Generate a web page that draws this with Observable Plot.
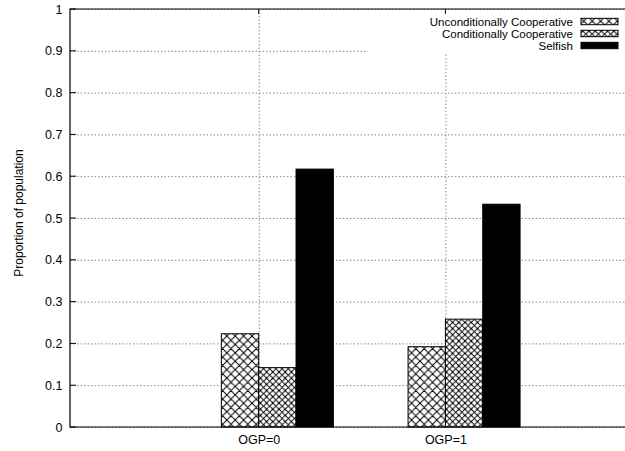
<!DOCTYPE html>
<html>
<head>
<meta charset="utf-8">
<script src="https://cdn.jsdelivr.net/npm/d3@7"></script>
<script src="https://cdn.jsdelivr.net/npm/@observablehq/plot@0.6"></script>
<style>
  html, body { margin: 0; padding: 0; background: #fff; }
  #chart { width: 625px; height: 451px; }
</style>
</head>
<body>
<div id="chart"></div>
<script>
const categories = ["OGP=0", "OGP=1"];
const series = ["Unconditionally Cooperative", "Conditionally Cooperative", "Selfish"];
const unconditional = [0.223, 0.192];
const conditional = [0.142, 0.258];
const selfish = [0.617, 0.533];
const yTicks = [0, 0.1, 0.2, 0.3, 0.4, 0.5, 0.6, 0.7, 0.8, 0.9, 1];
const yLabel = "Proportion of population";

const values = [unconditional, conditional, selfish];
const barW = 0.2;
const rows = [];
categories.forEach((c, i) => {
  series.forEach((s, j) => {
    const x1 = i + (j - 1) * barW;
    rows.push({ x1, x2: x1 + barW, value: values[j][i], series: s });
  });
});

const W = 625, H = 451, mL = 70, mT = 9, mB = 24;
const pxPerUnit = 186.7;
const xMin = -(258.7 - mL) / pxPerUnit;
const xMax = xMin + (W - mL) / pxPerUnit;
const font = "'Liberation Sans', Arial, Helvetica, sans-serif";
const fs = 12.5;
const legFs = 11.5;
const fills = ["url(#pUC)", "url(#pCC)", "black"];

const plot = Plot.plot({
  width: W, height: H,
  marginLeft: mL, marginTop: mT, marginBottom: mB, marginRight: 0,
  style: { fontFamily: font, fontSize: fs + "px", color: "black", background: "white" },
  x: { domain: [xMin, xMax], type: "linear" },
  y: { domain: [0, 1] },
  color: { type: "ordinal", domain: series, range: fills },
  marks: [
    Plot.gridY(yTicks, { stroke: "#888", strokeOpacity: 1, strokeDasharray: "1.5,2" }),
    Plot.gridX([0, 1], { stroke: "#888", strokeOpacity: 1, strokeDasharray: "1.5,2" }),
    Plot.rectY(rows, { x1: "x1", x2: "x2", y: "value", fill: "series", stroke: "black", strokeWidth: 1 }),
    Plot.axisY(yTicks, { tickSize: 0, tickPadding: 8, tickFormat: d => String(+d.toFixed(1)), label: null, fontSize: fs }),
    Plot.axisX([0, 1], { tickSize: 0, tickPadding: 8, tickFormat: i => categories[i], label: null, fontSize: fs })
  ]
});

document.getElementById("chart").appendChild(plot);

const svg = d3.select(plot);
const defs = svg.insert("defs", ":first-child");
const p1 = defs.append("pattern").attr("id", "pUC").attr("patternUnits", "userSpaceOnUse")
  .attr("width", 8.4).attr("height", 8.4);
p1.append("rect").attr("width", 8.4).attr("height", 8.4).attr("fill", "white");
p1.append("path").attr("d", "M0,0L8.4,8.4M8.4,0L0,8.4M-1,1L1,-1M7.4,9.4L9.4,7.4").attr("stroke", "black").attr("stroke-width", 1);
const p2 = defs.append("pattern").attr("id", "pCC").attr("patternUnits", "userSpaceOnUse")
  .attr("width", 6.2).attr("height", 6.2);
p2.append("rect").attr("width", 6.2).attr("height", 6.2).attr("fill", "white");
p2.append("path").attr("d", "M0,0L6.2,6.2M6.2,0L0,6.2").attr("stroke", "black").attr("stroke-width", 0.9);
[[0, 0], [6.2, 0], [0, 6.2], [6.2, 6.2]].forEach(([cx, cy]) =>
  p2.append("circle").attr("cx", cx).attr("cy", cy).attr("r", 1.1).attr("fill", "black"));

const fb = H - mB; // frame bottom
const g = svg.append("g");
const yScale = plot.scale("y"), xScale = plot.scale("x");
yTicks.forEach(t => {
  const y = yScale.apply(t);
  g.append("line").attr("x1", mL).attr("x2", mL + 6).attr("y1", y).attr("y2", y).attr("stroke", "black");
});
// legend background
g.append("rect").attr("x", 368).attr("y", mT + 1).attr("width", W - 368).attr("height", 43).attr("fill", "white");
[0, 1].forEach(t => {
  const x = xScale.apply(t);
  g.append("line").attr("x1", x).attr("x2", x).attr("y1", mT).attr("y2", mT + 5).attr("stroke", "black");
});
// frame
g.append("path").attr("d", `M${W},${mT}H${mL}V${fb}H${W}`).attr("fill", "none").attr("stroke", "black").attr("stroke-width", 1.2);
// legend
const legY = [21.5, 33.5, 45.5];
series.forEach((s, j) => {
  g.append("text").attr("x", 573).attr("y", legY[j]).attr("dy", "0.35em").attr("text-anchor", "end")
    .attr("font-family", font).attr("font-size", legFs).attr("fill", "black").text(s);
  g.append("rect").attr("x", 581).attr("y", legY[j] - 3.2).attr("width", 37).attr("height", 6.4)
    .attr("fill", fills[j]).attr("stroke", "black").attr("stroke-width", 1);
});
// y label
g.append("text").attr("transform", `translate(19,213) rotate(-90)`).attr("text-anchor", "middle")
  .attr("dy", "0.35em").attr("font-family", font).attr("font-size", 12).attr("fill", "black").text(yLabel);
</script>
</body>
</html>
